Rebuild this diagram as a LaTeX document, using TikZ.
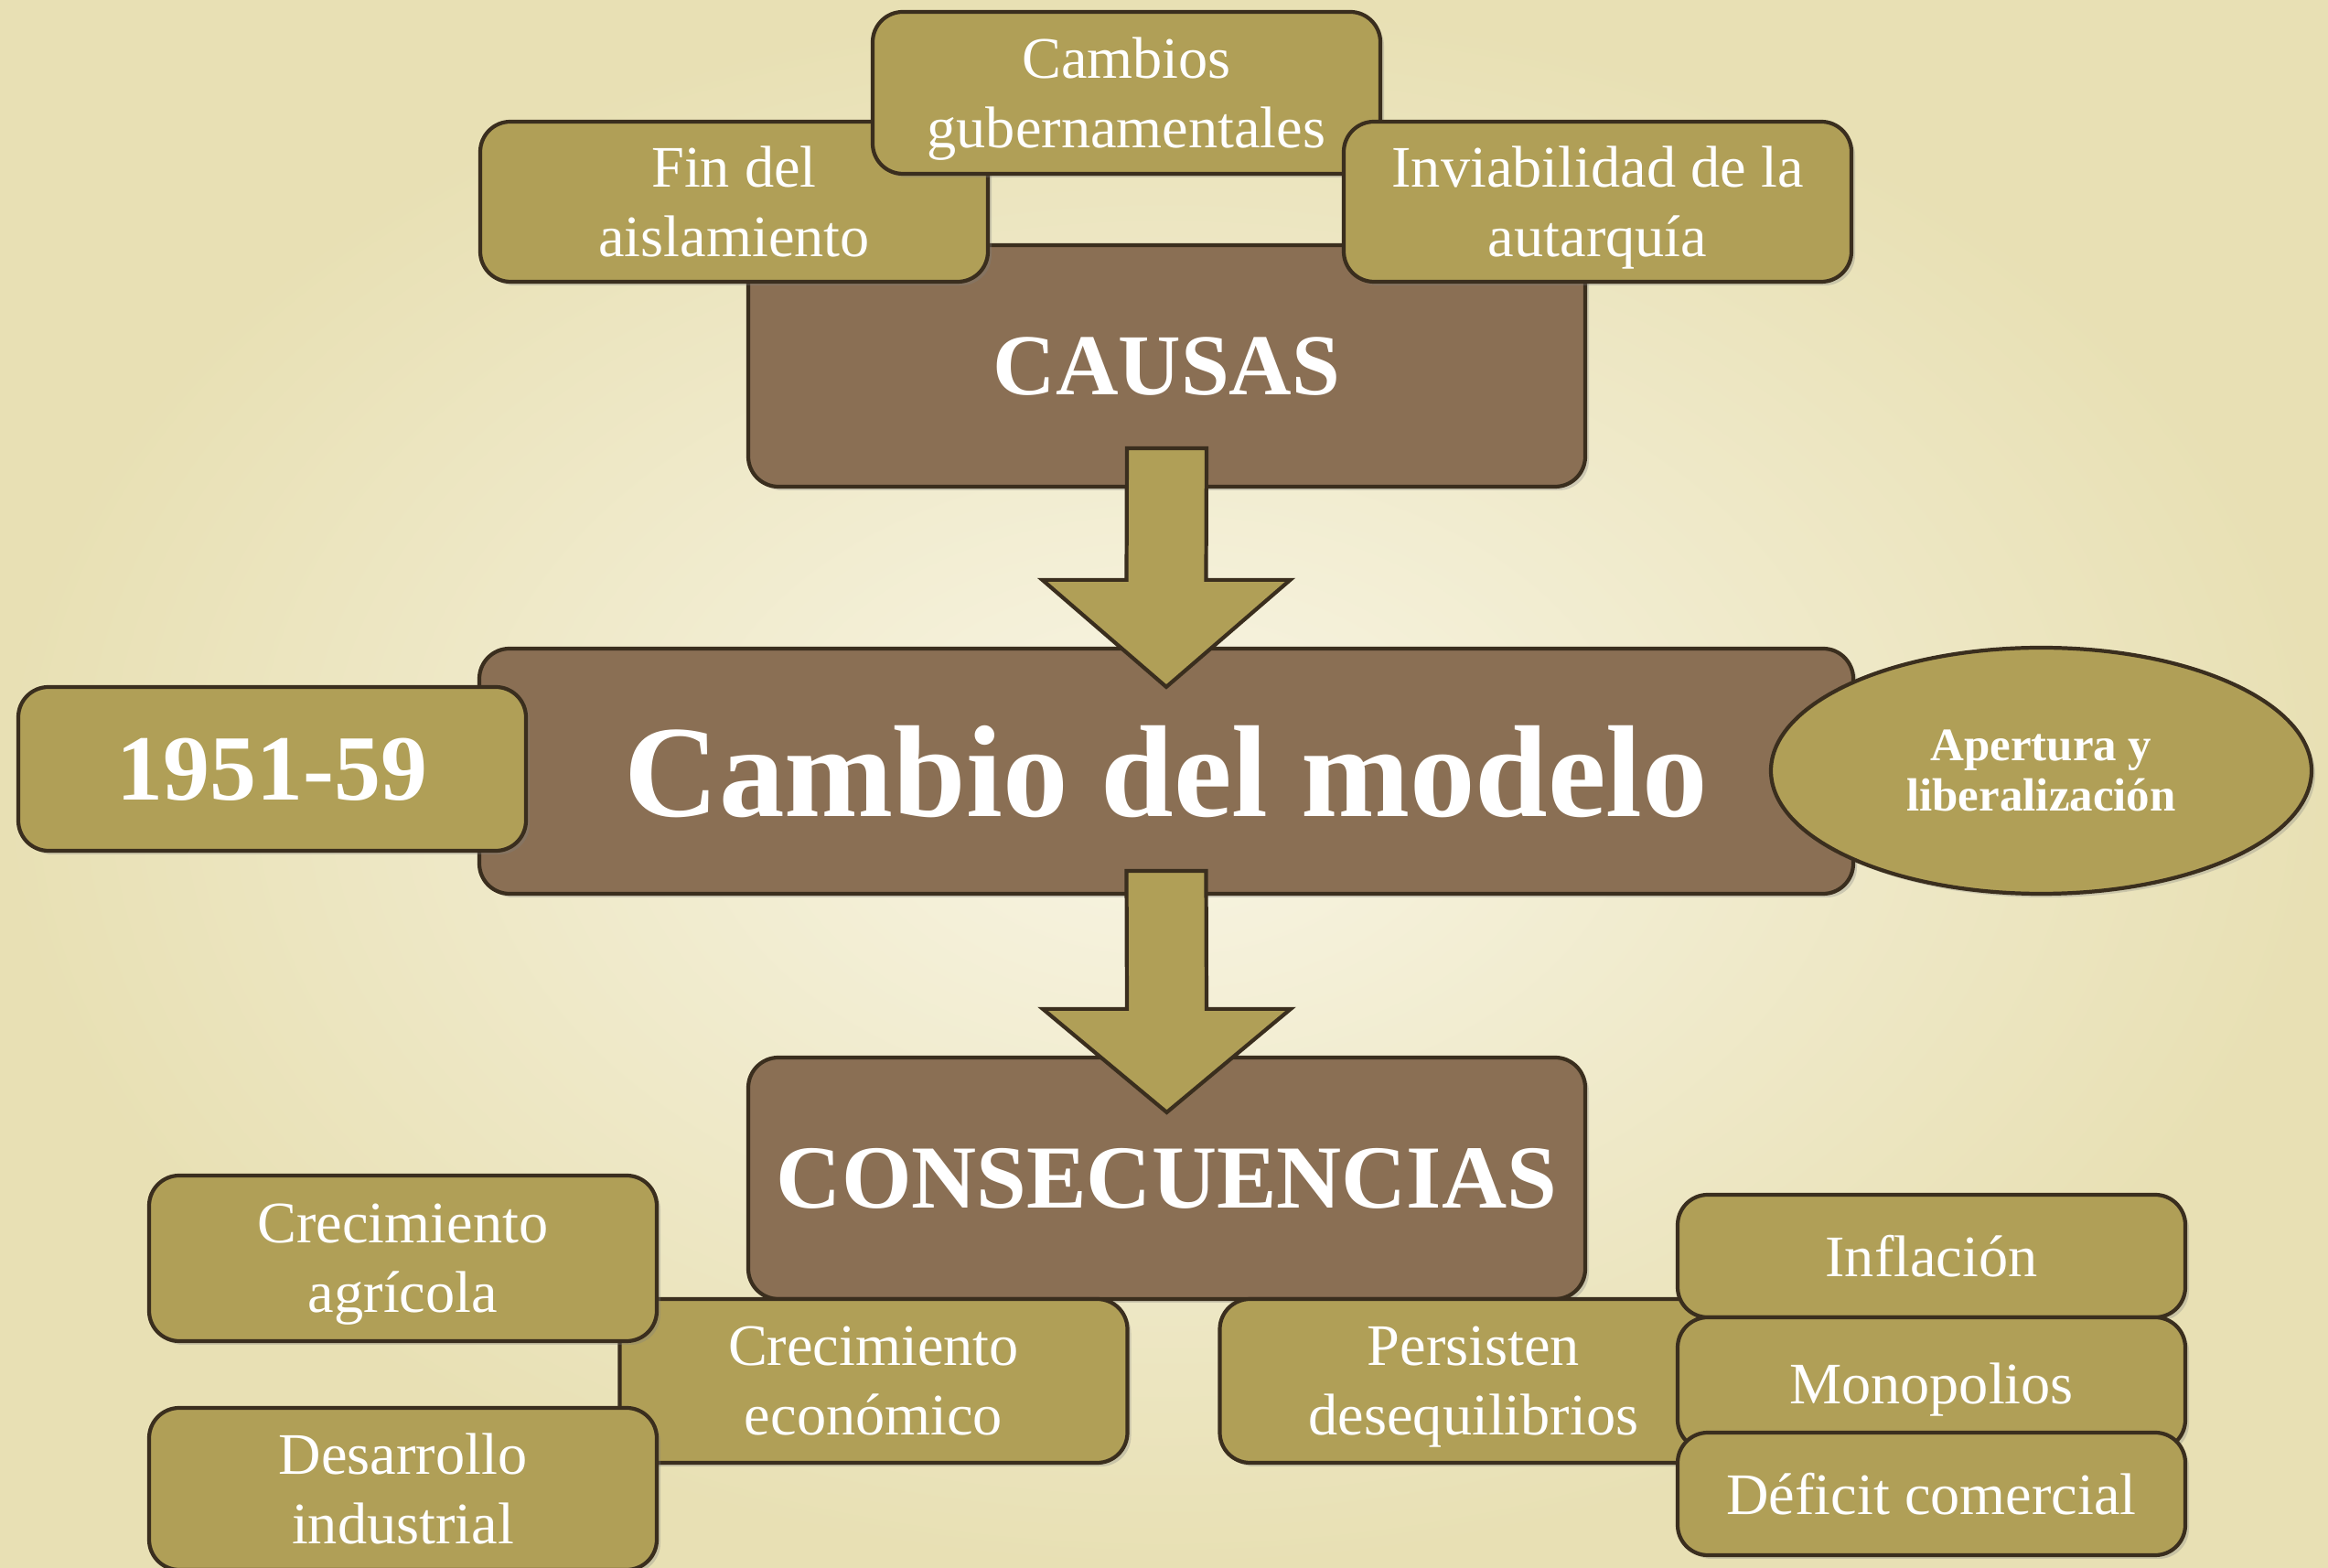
\documentclass[tikz,border=0pt]{standalone}
\usepackage{fontspec}
\setmainfont{Liberation Serif}
\usetikzlibrary{calc,shadows,shapes.geometric}
\definecolor{fondoclaro}{HTML}{F8F5E4}
\definecolor{fondo}{HTML}{E8E0B4}
\definecolor{olivo}{HTML}{B09F57}
\definecolor{marron}{HTML}{8A6F54}
\definecolor{borde}{HTML}{3A2E1E}

\begin{document}
\begin{tikzpicture}[caja/.style = {draw=borde, line width=1.2pt, rounded corners=0.33cm, text=white, align=center, inner sep=0pt, text depth=0pt, drop shadow={opacity=0.3, shadow xshift=0.04cm, shadow yshift=-0.04cm}},
  verde/.style = {caja, fill=olivo, minimum width=5.55cm, font=\fontsize{18.3}{21.7}\selectfont},
  titulo/.style = {caja, fill=marron, minimum width=9.15cm, minimum height=2.64cm, font=\fontsize{27}{30}\selectfont\bfseries},
  flecha/.style = {draw=borde, line width=1.2pt, fill=olivo, line join=miter}]
\useasboundingbox (0,0) rectangle (25.45,17.14);
\shade[inner color=fondoclaro, outer color=fondo] (0,0) rectangle (25.45,17.14);
% causas
\node[titulo] (causas) at (12.755,13.14) {CAUSAS};
\node[verde, minimum height=1.75cm] (findel) at (8.025,14.935) {Fin del\\aislamiento};
\node[verde, minimum height=1.77cm] (cambios) at (12.315,16.125) {Cambios\\gubernamentales};
\node[verde, minimum height=1.75cm] (inviab) at (17.465,14.935) {Inviabilidad de la\\autarquía};
% centro
\node[caja, fill=marron, minimum width=15.02cm, minimum height=2.68cm, font=\fontsize{40.7}{45}\selectfont\bfseries] (modelo) at (12.75,8.71) {Cambio del modelo};
\node[verde, minimum height=1.79cm, font=\fontsize{29}{32}\selectfont\bfseries] (fecha) at (2.975,8.735) {1951-59};
\node[caja, ellipse, fill=olivo, minimum width=5.91cm, minimum height=2.69cm, font=\fontsize{14.5}{15.7}\selectfont\bfseries] (apertura) at (22.315,8.715) {Apertura y\\liberalización};
% consecuencias
\node[titulo, font=\fontsize{28}{31}\selectfont\bfseries] (consec) at (12.755,4.26) {CONSECUENCIAS};
\node[verde, minimum height=1.79cm] (economico) at (9.55,2.045) {Crecimiento\\económico};
\node[verde, minimum height=1.81cm] (agricola) at (4.405,3.385) {Crecimiento\\agrícola};
\node[verde, minimum height=1.77cm] (industrial) at (4.405,0.865) {Desarrollo\\industrial};
\node[verde, minimum height=1.79cm] (persisten) at (16.11,2.045) {Persisten\\desequilibrios};
\node[verde, minimum height=1.34cm] (inflacion) at (21.115,3.41) {Inflación};
\node[verde, minimum height=1.45cm] (monopolios) at (21.115,2.015) {Monopolios};
\node[verde, minimum height=1.34cm] (deficit) at (21.115,0.81) {Déficit comercial};
% flechas
\coordinate (a1) at ($(causas.south)+(0,0.44)$);
\coordinate (b1) at ($(modelo.north)+(0,-0.44)$);
\coordinate (a2) at ($(modelo.south)+(0,0.27)$);
\coordinate (b2) at ($(consec.north)+(0,-0.62)$);
\draw[flecha] ([xshift=-0.435cm]a1) -- ([xshift=0.435cm]a1) -- ([xshift=0.435cm,yshift=1.17cm]b1) -- ([xshift=1.355cm,yshift=1.17cm]b1) -- (b1) -- ([xshift=-1.355cm,yshift=1.17cm]b1) -- ([xshift=-0.435cm,yshift=1.17cm]b1) -- cycle;
\draw[flecha] ([xshift=-0.435cm]a2) -- ([xshift=0.435cm]a2) -- ([xshift=0.435cm,yshift=1.13cm]b2) -- ([xshift=1.355cm,yshift=1.13cm]b2) -- (b2) -- ([xshift=-1.355cm,yshift=1.13cm]b2) -- ([xshift=-0.435cm,yshift=1.13cm]b2) -- cycle;
\end{tikzpicture}
\end{document}
